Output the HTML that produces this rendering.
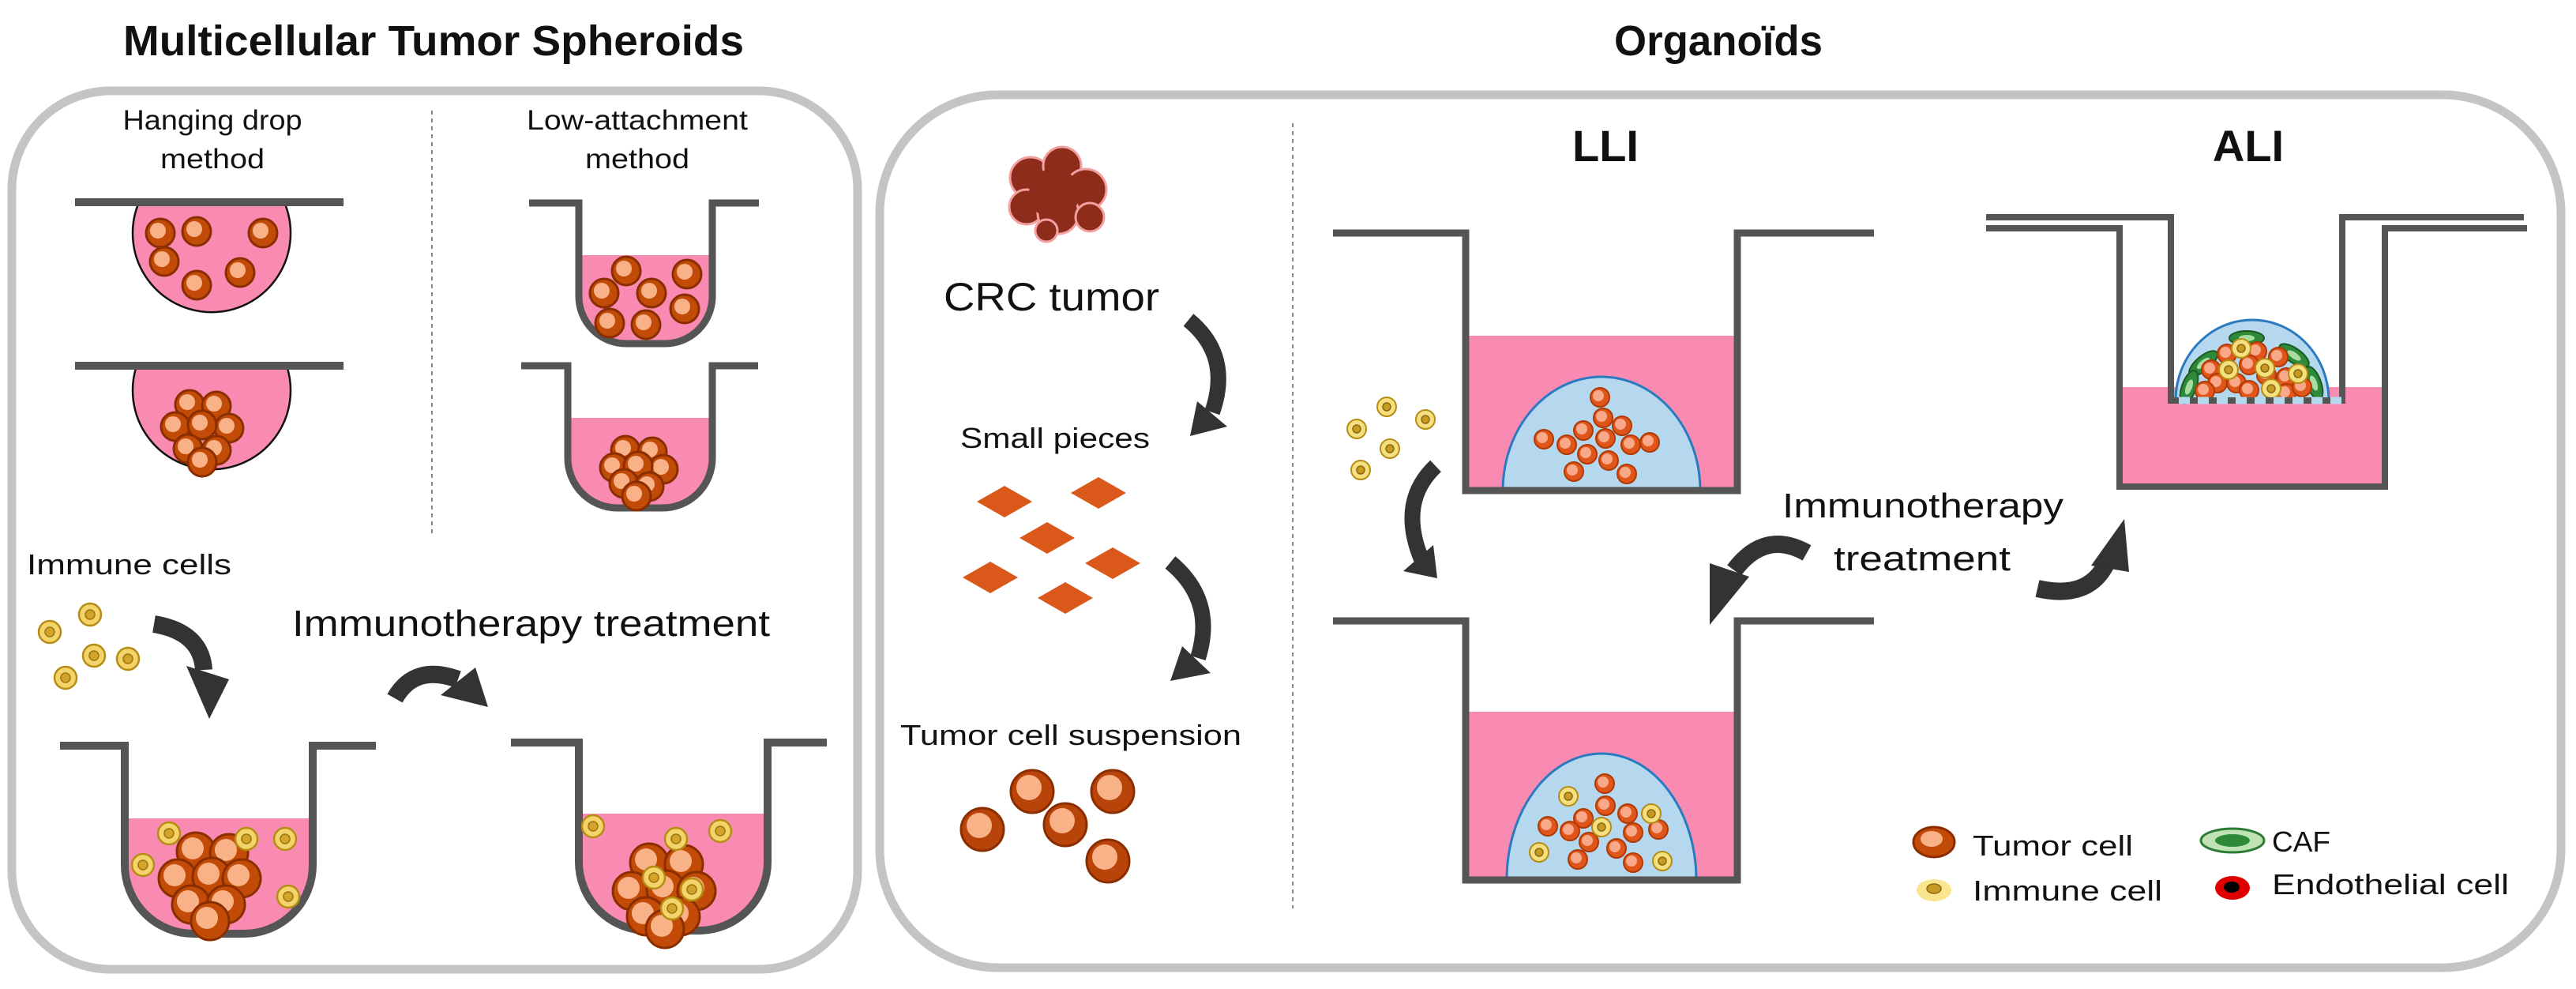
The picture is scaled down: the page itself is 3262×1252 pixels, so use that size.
<!DOCTYPE html>
<html><head><meta charset="utf-8"><style>
html,body{margin:0;padding:0;background:#fff;}
svg{display:block;}
text{font-family:"Liberation Sans",sans-serif;fill:#111;}
</style></head><body>
<svg width="3262" height="1252" viewBox="0 0 3262 1252" xmlns="http://www.w3.org/2000/svg">
<defs>
<g id="tc"><circle r="18" fill="#c24b08" stroke="#8a2e00" stroke-width="3"/><circle cx="-3" cy="-3" r="10" fill="#f9b287"/></g>
<g id="tcL"><circle r="24" fill="#c24b08" stroke="#8a2e00" stroke-width="3"/><circle cx="-4" cy="-4" r="14" fill="#f9b287"/></g>
<g id="tcX"><circle r="27" fill="#b8440a" stroke="#8a2e00" stroke-width="3"/><circle cx="-4" cy="-5" r="16" fill="#f9b287"/></g>
<g id="ts"><circle r="12" fill="#e0561a" stroke="#b03a05" stroke-width="2"/><circle cx="-2" cy="-2" r="7" fill="#f9a98a"/></g>
<g id="ic"><circle r="14" fill="#f4d46a" stroke="#b58c14" stroke-width="2.5"/><circle r="6" fill="#d4a42a" stroke="#9a7510" stroke-width="1.5"/></g>
<g id="ics"><circle r="12" fill="#f6df7e" stroke="#b58c14" stroke-width="2"/><circle r="5" fill="#c89a22" stroke="#8a6a10" stroke-width="1.5"/></g>
<g id="caf"><ellipse rx="22" ry="9" fill="#2e8a3a" stroke="#1a5a22" stroke-width="2"/><ellipse rx="10" ry="4" fill="#a8dca0"/></g>
<clipPath id="c1"><rect x="1860" y="300" width="336" height="317"/></clipPath>
<clipPath id="c2"><rect x="1860" y="790" width="336" height="320"/></clipPath>
<clipPath id="c3"><rect x="2745" y="380" width="220" height="125"/></clipPath>
</defs>

<text x="549" y="70" font-size="54" font-weight="bold" text-anchor="middle" textLength="786" lengthAdjust="spacingAndGlyphs">Multicellular Tumor Spheroids</text>
<text x="2176" y="70" font-size="54" font-weight="bold" text-anchor="middle" textLength="264" lengthAdjust="spacingAndGlyphs">Organoïds</text>

<rect x="15" y="115" width="1071" height="1112" rx="125" fill="none" stroke="#c4c4c4" stroke-width="11"/>
<rect x="1114" y="120" width="2129" height="1105" rx="150" fill="none" stroke="#c4c4c4" stroke-width="11"/>

<line x1="547" y1="140" x2="547" y2="675" stroke="#888" stroke-width="2" stroke-dasharray="5,5"/>
<line x1="1637" y1="156" x2="1637" y2="1150" stroke="#888" stroke-width="2" stroke-dasharray="5,5"/>

<text x="269" y="164" font-size="35" text-anchor="middle" fill="#222" textLength="227" lengthAdjust="spacingAndGlyphs">Hanging drop</text>
<text x="269" y="213" font-size="35" text-anchor="middle" textLength="132" lengthAdjust="spacingAndGlyphs">method</text>
<text x="807" y="164" font-size="35" text-anchor="middle" textLength="280" lengthAdjust="spacingAndGlyphs">Low-attachment</text>
<text x="807" y="213" font-size="35" text-anchor="middle" textLength="132" lengthAdjust="spacingAndGlyphs">method</text>

<!-- Hanging drop 1 -->
<path d="M176 256 A100 100 0 1 0 360 256 Z" fill="#f98bb3" stroke="#111" stroke-width="2.5"/>
<line x1="95" y1="256" x2="435" y2="256" stroke="#555" stroke-width="10"/>
<use href="#tc" x="203" y="295"/><use href="#tc" x="249" y="293"/><use href="#tc" x="333" y="295"/>
<use href="#tc" x="208" y="331"/><use href="#tc" x="249" y="361"/><use href="#tc" x="304" y="345"/>

<!-- Hanging drop 2 -->
<path d="M173 463 A100 100 0 1 0 363 463 Z" fill="#f98bb3" stroke="#111" stroke-width="2.5"/>
<line x1="95" y1="463" x2="435" y2="463" stroke="#555" stroke-width="10"/>
<use href="#tc" x="240" y="512"/><use href="#tc" x="274" y="514"/><use href="#tc" x="222" y="540"/>
<use href="#tc" x="290" y="542"/><use href="#tc" x="256" y="538"/><use href="#tc" x="238" y="568"/>
<use href="#tc" x="274" y="570"/><use href="#tc" x="256" y="585"/>

<!-- Low attach well 1 -->
<path d="M733 323 L733 375 A60 60 0 0 0 793 435 L842 435 A60 60 0 0 0 902 375 L902 323 Z" fill="#f98bb3"/>
<path d="M670 257 L733 257 L733 375 A60 60 0 0 0 793 435 L842 435 A60 60 0 0 0 902 375 L902 257 L961 257" fill="none" stroke="#555" stroke-width="9"/>
<use href="#tc" x="793" y="343"/><use href="#tc" x="870" y="347"/><use href="#tc" x="765" y="371"/>
<use href="#tc" x="825" y="371"/><use href="#tc" x="867" y="391"/><use href="#tc" x="772" y="409"/><use href="#tc" x="818" y="411"/>

<!-- Low attach well 2 -->
<path d="M719 529 L719 580 A63 63 0 0 0 782 643 L839 643 A63 63 0 0 0 902 580 L902 529 Z" fill="#f98bb3"/>
<path d="M660 463 L719 463 L719 580 A63 63 0 0 0 782 643 L839 643 A63 63 0 0 0 902 580 L902 463 L960 463" fill="none" stroke="#555" stroke-width="9"/>
<use href="#tc" x="792" y="570"/><use href="#tc" x="826" y="572"/><use href="#tc" x="778" y="592"/>
<use href="#tc" x="840" y="594"/><use href="#tc" x="808" y="590"/><use href="#tc" x="790" y="612"/><use href="#tc" x="822" y="616"/><use href="#tc" x="806" y="628"/>

<text x="34" y="727" font-size="36" textLength="259" lengthAdjust="spacingAndGlyphs">Immune cells</text>
<use href="#ic" x="63" y="800"/><use href="#ic" x="114" y="778"/><use href="#ic" x="119" y="830"/>
<use href="#ic" x="162" y="834"/><use href="#ic" x="83" y="858"/>

<path d="M195 790 Q255 800 258 848" fill="none" stroke="#333" stroke-width="22"/>
<polygon points="236,843 290,860 265,910" fill="#333"/>
<text x="370" y="805" font-size="46" textLength="605" lengthAdjust="spacingAndGlyphs">Immunotherapy treatment</text>
<path d="M500 884 Q525 840 580 860" fill="none" stroke="#333" stroke-width="22"/>
<polygon points="558,880 602,845 618,895" fill="#333"/>

<!-- Bottom well 1 -->
<path d="M158 1036 L158 1095 A87 87 0 0 0 245 1182 L309 1182 A87 87 0 0 0 396 1095 L396 1036 Z" fill="#f98bb3"/>
<path d="M76 944 L158 944 L158 1095 A87 87 0 0 0 245 1182 L309 1182 A87 87 0 0 0 396 1095 L396 944 L476 944" fill="none" stroke="#555" stroke-width="10"/>
<use href="#tcL" x="248" y="1078"/><use href="#tcL" x="290" y="1080"/><use href="#tcL" x="225" y="1112"/>
<use href="#tcL" x="268" y="1110"/><use href="#tcL" x="306" y="1112"/><use href="#tcL" x="242" y="1145"/>
<use href="#tcL" x="286" y="1145"/><use href="#tcL" x="266" y="1166"/>
<use href="#ic" x="214" y="1055"/><use href="#ic" x="312" y="1062"/><use href="#ic" x="361" y="1062"/>
<use href="#ic" x="181" y="1095"/><use href="#ic" x="365" y="1135"/>

<!-- Bottom well 2 -->
<path d="M733 1030 L733 1091 A87 87 0 0 0 820 1178 L885 1178 A87 87 0 0 0 972 1091 L972 1030 Z" fill="#f98bb3"/>
<path d="M647 940 L733 940 L733 1091 A87 87 0 0 0 820 1178 L885 1178 A87 87 0 0 0 972 1091 L972 940 L1047 940" fill="none" stroke="#555" stroke-width="10"/>
<use href="#tcL" x="822" y="1092"/><use href="#tcL" x="866" y="1094"/><use href="#tcL" x="800" y="1128"/>
<use href="#tcL" x="843" y="1126"/><use href="#tcL" x="882" y="1128"/><use href="#tcL" x="818" y="1160"/>
<use href="#tcL" x="862" y="1160"/><use href="#tcL" x="842" y="1176"/>
<use href="#ic" x="751" y="1046"/><use href="#ic" x="856" y="1062"/><use href="#ic" x="912" y="1052"/>
<use href="#ic" x="828" y="1111"/><use href="#ic" x="876" y="1126"/><use href="#ic" x="851" y="1150"/>

<!-- CRC tumor blob -->
<g fill="#8e2c1c" stroke="#f2a0a0" stroke-width="3">
<circle cx="1305" cy="225" r="26"/><circle cx="1345" cy="210" r="24"/><circle cx="1375" cy="240" r="26"/>
<circle cx="1300" cy="262" r="22"/><circle cx="1340" cy="270" r="26"/><circle cx="1380" cy="275" r="18"/><circle cx="1325" cy="292" r="14"/>
</g>
<g fill="#8e2c1c"><circle cx="1335" cy="245" r="32"/></g>
<text x="1195" y="393" font-size="50" textLength="273" lengthAdjust="spacingAndGlyphs">CRC tumor</text>
<path d="M1505 405 Q1560 450 1535 522" fill="none" stroke="#333" stroke-width="20"/>
<polygon points="1516,508 1554,540 1507,552" fill="#333"/>
<text x="1216" y="567" font-size="36" textLength="240" lengthAdjust="spacingAndGlyphs">Small pieces</text>
<g fill="#d9581a">
<polygon points="1237,635 1272,615 1307,635 1272,655"/><polygon points="1356,624 1391,604 1426,624 1391,644"/>
<polygon points="1291,681 1326,661 1361,681 1326,701"/><polygon points="1374,713 1409,693 1444,713 1409,733"/>
<polygon points="1219,731 1254,711 1289,731 1254,751"/><polygon points="1314,757 1349,737 1384,757 1349,777"/>
</g>
<path d="M1482 712 Q1540 760 1517 833" fill="none" stroke="#333" stroke-width="20"/>
<polygon points="1497,818 1533,852 1482,862" fill="#333"/>
<text x="1140" y="943" font-size="36" textLength="432" lengthAdjust="spacingAndGlyphs">Tumor cell suspension</text>
<use href="#tcX" x="1307" y="1002"/><use href="#tcX" x="1409" y="1002"/><use href="#tcX" x="1244" y="1050"/>
<use href="#tcX" x="1349" y="1044"/><use href="#tcX" x="1403" y="1090"/>

<text x="2033" y="204" font-size="56" font-weight="bold" text-anchor="middle">LLI</text>
<text x="2847" y="204" font-size="56" font-weight="bold" text-anchor="middle">ALI</text>

<rect x="1856" y="425" width="344" height="196" fill="#f98bb3"/>
<g clip-path="url(#c1)"><ellipse cx="2028" cy="621" rx="125" ry="144" fill="#b5d8ef" stroke="#2a7ac0" stroke-width="3"/></g>
<path d="M1688 295 L1856 295 L1856 621 L2200 621 L2200 295 L2373 295" fill="none" stroke="#555" stroke-width="9"/>
<use href="#ts" x="2026" y="503"/><use href="#ts" x="2030" y="529"/><use href="#ts" x="2005" y="545"/><use href="#ts" x="2054" y="539"/>
<use href="#ts" x="1955" y="556"/><use href="#ts" x="1984" y="563"/><use href="#ts" x="2033" y="555"/><use href="#ts" x="2065" y="563"/>
<use href="#ts" x="2089" y="560"/><use href="#ts" x="2010" y="575"/><use href="#ts" x="2037" y="583"/><use href="#ts" x="1993" y="597"/><use href="#ts" x="2060" y="600"/>

<use href="#ics" x="1756" y="515"/><use href="#ics" x="1805" y="531"/><use href="#ics" x="1718" y="543"/>
<use href="#ics" x="1760" y="568"/><use href="#ics" x="1723" y="595"/>
<path d="M1818 590 Q1770 635 1800 708" fill="none" stroke="#333" stroke-width="20"/>
<polygon points="1777,723 1815,690 1820,732" fill="#333"/>

<rect x="1856" y="901" width="344" height="213" fill="#f98bb3"/>
<g clip-path="url(#c2)"><ellipse cx="2028" cy="1114" rx="120" ry="160" fill="#b5d8ef" stroke="#2a7ac0" stroke-width="3"/></g>
<path d="M1688 786 L1856 786 L1856 1114 L2200 1114 L2200 786 L2373 786" fill="none" stroke="#555" stroke-width="9"/>
<use href="#ts" x="2032" y="992"/><use href="#ts" x="2033" y="1020"/><use href="#ts" x="2005" y="1036"/><use href="#ts" x="2061" y="1030"/>
<use href="#ts" x="1960" y="1046"/><use href="#ts" x="1988" y="1052"/><use href="#ts" x="2068" y="1054"/><use href="#ts" x="2100" y="1050"/>
<use href="#ts" x="2012" y="1066"/><use href="#ts" x="2047" y="1074"/><use href="#ts" x="1998" y="1088"/><use href="#ts" x="2068" y="1092"/>
<use href="#ics" x="1986" y="1008"/><use href="#ics" x="2091" y="1030"/><use href="#ics" x="2028" y="1047"/>
<use href="#ics" x="1949" y="1079"/><use href="#ics" x="2105" y="1090"/>

<text x="2435" y="655" font-size="44" text-anchor="middle" textLength="356" lengthAdjust="spacingAndGlyphs">Immunotherapy</text>
<text x="2434" y="722" font-size="44" text-anchor="middle" textLength="224" lengthAdjust="spacingAndGlyphs">treatment</text>
<path d="M2288 700 Q2235 670 2196 722" fill="none" stroke="#333" stroke-width="22"/>
<polygon points="2165,713 2215,730 2165,791" fill="#333"/>
<path d="M2580 745 Q2645 760 2668 712" fill="none" stroke="#333" stroke-width="22"/>
<polygon points="2648,716 2696,724 2690,657" fill="#333"/>

<rect x="2684" y="490" width="336" height="126" fill="#f98bb3"/>
<g clip-path="url(#c3)"><ellipse cx="2852" cy="507" rx="97" ry="102" fill="#b5d8ef" stroke="#2a7ac0" stroke-width="3"/></g>
<g>
<use href="#caf" x="2790" y="460" transform="rotate(-40 2790 460)"/>
<use href="#caf" x="2845" y="428"/>
<use href="#caf" x="2905" y="450" transform="rotate(35 2905 450)"/>
<use href="#caf" x="2772" y="490" transform="rotate(-70 2772 490)"/>
<use href="#caf" x="2930" y="485" transform="rotate(70 2930 485)"/>
<use href="#ts" x="2820" y="448"/><use href="#ts" x="2858" y="445"/><use href="#ts" x="2885" y="452"/>
<use href="#ts" x="2800" y="468"/><use href="#ts" x="2848" y="462"/><use href="#ts" x="2895" y="478"/>
<use href="#ts" x="2808" y="485"/><use href="#ts" x="2832" y="485"/><use href="#ts" x="2870" y="475"/>
<use href="#ts" x="2792" y="495"/><use href="#ts" x="2848" y="494"/><use href="#ts" x="2895" y="498"/><use href="#ts" x="2915" y="490"/>
<use href="#ics" x="2838" y="441"/><use href="#ics" x="2822" y="468"/><use href="#ics" x="2868" y="466"/>
<use href="#ics" x="2910" y="473"/><use href="#ics" x="2876" y="492"/>
</g>
<path d="M2515 275 L2749 275 L2749 507 L2966 507 L2966 275 L3196 275" fill="none" stroke="#555" stroke-width="8"/>
<path d="M2515 289 L2684 289 L2684 616 L3020 616 L3020 289 L3200 289" fill="none" stroke="#555" stroke-width="8"/>
<line x1="2749" y1="507" x2="2966" y2="507" stroke="#b5d8ef" stroke-width="9" stroke-dasharray="14,10" stroke-dashoffset="-10"/>

<ellipse cx="2449" cy="1066" rx="26" ry="19" fill="#c24b08" stroke="#8a2e00" stroke-width="3"/>
<ellipse cx="2446" cy="1062" rx="14" ry="10" fill="#f9b287"/>
<text x="2498" y="1083" font-size="36" textLength="203" lengthAdjust="spacingAndGlyphs">Tumor cell</text>
<ellipse cx="2449" cy="1127" rx="22" ry="14" fill="#fbe58e"/>
<ellipse cx="2449" cy="1125" rx="9" ry="6" fill="#c89a22" stroke="#8a6a10" stroke-width="1.5"/>
<text x="2498" y="1140" font-size="36" textLength="240" lengthAdjust="spacingAndGlyphs">Immune cell</text>
<ellipse cx="2827" cy="1064" rx="40" ry="15" fill="#bfe3b5" stroke="#2e7a35" stroke-width="3"/>
<ellipse cx="2827" cy="1064" rx="22" ry="8" fill="#2e8a3a"/>
<text x="2877" y="1078" font-size="36" textLength="74" lengthAdjust="spacingAndGlyphs">CAF</text>
<ellipse cx="2827" cy="1124" rx="22" ry="15" fill="#e00000"/>
<ellipse cx="2826" cy="1123" rx="10" ry="7" fill="#000"/>
<text x="2877" y="1132" font-size="36" textLength="300" lengthAdjust="spacingAndGlyphs">Endothelial cell</text>
</svg>
</body></html>
